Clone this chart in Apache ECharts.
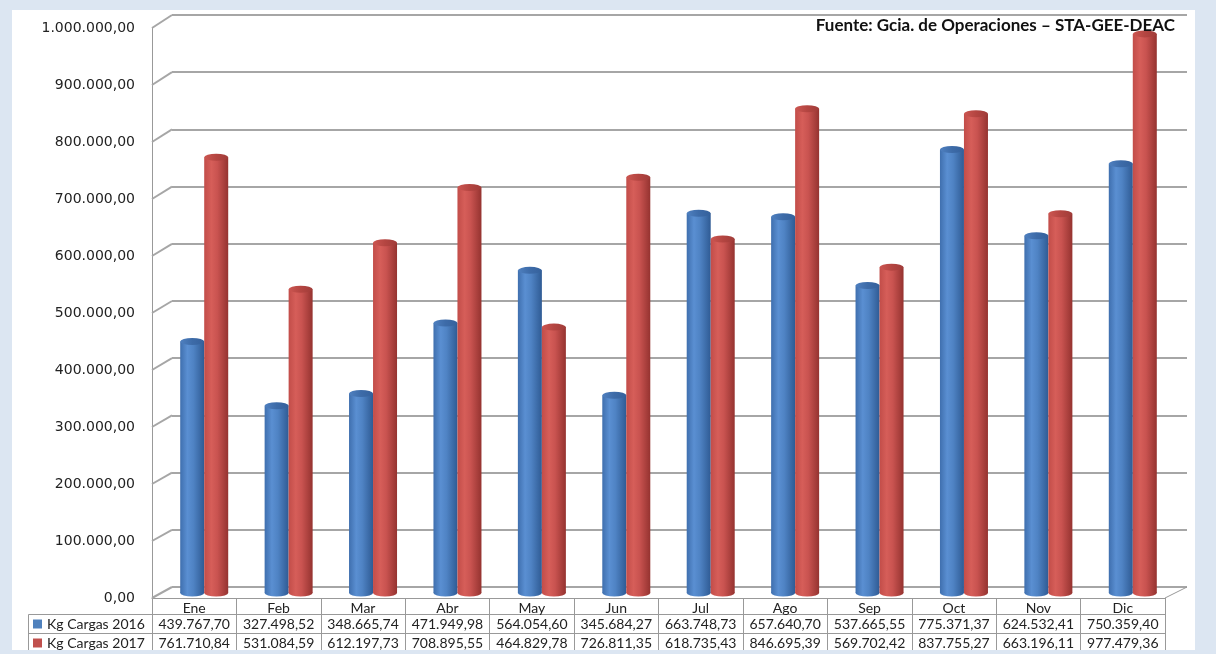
<!DOCTYPE html>
<html>
<head>
<meta charset="utf-8">
<script src="https://cdn.jsdelivr.net/npm/echarts@6/dist/echarts.min.js"></script>
<style>
html,body{margin:0;padding:0;background:#dce6f2;}
#c{width:1216px;height:654px;}
</style>
</head>
<body>
<div id="c"></div>
<script>
// ---- data ----
const months = ['Ene','Feb','Mar','Abr','May','Jun','Jul','Ago','Sep','Oct','Nov','Dic'];
const cargas2016 = [439767.70, 327498.52, 348665.74, 471949.98, 564054.60, 345684.27, 663748.73, 657640.70, 537665.55, 775371.37, 624532.41, 750359.40];
const cargas2017 = [761710.84, 531084.59, 612197.73, 708895.55, 464829.78, 726811.35, 618735.43, 846695.39, 569702.42, 837755.27, 663196.11, 977479.36];
const seriesNames = ['Kg Cargas 2016', 'Kg Cargas 2017'];
const yTicks = [0,100000,200000,300000,400000,500000,600000,700000,800000,900000,1000000];
const sourceText = 'Fuente: Gcia. de Operaciones \u2013 STA-GEE-DEAC';

function fmt(v){
  const parts = v.toFixed(2).split('.');
  return parts[0].replace(/\B(?=(\d{3})+(?!\d))/g,'.') + ',' + parts[1];
}

const chart = echarts.init(document.getElementById('c'), null, {renderer:'canvas'});
const grey = '#a6a6a6';
const tblFont = 'Lato';
const yMin = yTicks[0], yMax = yTicks[yTicks.length-1], yStep = yTicks[1]-yTicks[0];

function hGrad(stops){
  return new echarts.graphic.LinearGradient(0,0,1,0, stops.map(c=>({offset:c[0],color:c[1]})));
}
const blueBody = hGrad([[0,'#3f6fae'],[0.3,'#5a8fd2'],[0.55,'#4f83c4'],[1,'#2f5b94']]);
const redBody  = hGrad([[0,'#c24d49'],[0.3,'#d65e59'],[0.55,'#c95350'],[1,'#953330']]);
const blueTop = hGrad([[0,'#4f80c0'],[0.5,'#3d6ba8'],[1,'#35619c']]);
const redTop  = hGrad([[0,'#cc5651'],[0.5,'#b44541'],[1,'#a03c39']]);

const legendBase = {
  orient:'vertical', left:33, padding:0, itemWidth:9, itemHeight:9, icon:'rect',
  textStyle:{fontFamily:tblFont, fontSize:14, color:'#222', lineHeight:14}
};

const option = {
  backgroundColor:'#dce6f2',
  animation:false,
  title:{
    text: sourceText, right: 36, top: 12,
    textStyle:{fontFamily:tblFont, fontWeight:'bold', fontSize:17, color:'#111'}
  },
  legend:[
    Object.assign({}, legendBase, {top:617, data:[{name:seriesNames[0], itemStyle:{color:'#4f81bd'}}]}),
    Object.assign({}, legendBase, {top:636, data:[{name:seriesNames[1], itemStyle:{color:'#c0504d'}}]})
  ],
  grid:[
    {left:172, top:15, width:1015, height:572},
    {left:162, top:21, width:1013, height:572},
    {left:152, top:28, width:1013, height:570}
  ],
  xAxis:[
    {type:'category', gridIndex:0, data:months, show:false},
    {type:'category', gridIndex:1, data:months, show:false},
    {type:'category', gridIndex:2, data:months, boundaryGap:true,
      axisLine:{show:true, lineStyle:{color:'#999', width:1}},
      axisTick:{show:true, length:60, alignWithLabel:false, lineStyle:{color:'#999'}},
      axisLabel:{margin:3, fontFamily:tblFont, fontSize:14, color:'#222'}},
    {type:'category', gridIndex:2, position:'bottom', offset:16, data:cargas2016.map(fmt),
      axisLine:{show:true, lineStyle:{color:'#999'}}, axisTick:{show:false},
      axisLabel:{margin:3, fontFamily:tblFont, fontSize:14, color:'#222', interval:0}},
    {type:'category', gridIndex:2, position:'bottom', offset:35, data:cargas2017.map(fmt),
      axisLine:{show:true, lineStyle:{color:'#999'}}, axisTick:{show:false},
      axisLabel:{margin:3, fontFamily:tblFont, fontSize:14, color:'#222', interval:0}}
  ],
  yAxis:[
    {type:'value', gridIndex:0, min:yMin, max:yMax, interval:yStep,
      axisLine:{show:false}, axisTick:{show:false}, axisLabel:{show:false},
      splitLine:{show:true, lineStyle:{color:grey, width:2}}},
    {type:'value', gridIndex:1, min:yMin, max:yMax, interval:yStep, show:false, splitLine:{show:false}},
    {type:'value', gridIndex:2, min:yMin, max:yMax, interval:yStep,
      axisLine:{show:true, lineStyle:{color:'#999'}}, axisTick:{show:false},
      splitLine:{show:false},
      axisLabel:{formatter:v=>fmt(v), margin:17, fontFamily:'DejaVu Sans', fontSize:14, color:'#222'}}
  ],
  series:[
    {name:seriesNames[0], type:'bar', xAxisIndex:1, yAxisIndex:1, data:cargas2016,
      barWidth:24, barGap:'0%', z:3, itemStyle:{color:blueBody}},
    {name:seriesNames[1], type:'bar', xAxisIndex:1, yAxisIndex:1, data:cargas2017,
      barWidth:24, barGap:'0%', z:3, itemStyle:{color:redBody}},
    {name:seriesNames[0], type:'pictorialBar', xAxisIndex:1, yAxisIndex:1, data:cargas2016,
      symbol:'circle', symbolSize:[24,7], symbolPosition:'end', symbolOffset:['-50%','-50%'], z:4,
      itemStyle:{color:blueTop}},
    {name:seriesNames[1], type:'pictorialBar', xAxisIndex:1, yAxisIndex:1, data:cargas2017,
      symbol:'circle', symbolSize:[24,7], symbolPosition:'end', symbolOffset:['50%','-50%'], z:4,
      itemStyle:{color:redTop}},
    {name:seriesNames[0], type:'pictorialBar', xAxisIndex:1, yAxisIndex:1, data:cargas2016,
      symbol:'circle', symbolSize:[24,7], symbolPosition:'start', symbolOffset:['-50%','50%'], z:2,
      itemStyle:{color:blueBody}},
    {name:seriesNames[1], type:'pictorialBar', xAxisIndex:1, yAxisIndex:1, data:cargas2017,
      symbol:'circle', symbolSize:[24,7], symbolPosition:'start', symbolOffset:['50%','50%'], z:2,
      itemStyle:{color:redBody}}
  ]
};
chart.setOption(option);

// decorations: panel, 3D diagonals, table left column
const els = [];
els.push({type:'rect', shape:{x:12,y:10,width:1183,height:640}, style:{fill:'#ffffff'}, z:-100, silent:true});
yTicks.forEach(v=>{
  const yf = chart.convertToPixel({yAxisIndex:2}, v);
  const yb = chart.convertToPixel({yAxisIndex:0}, v);
  els.push({type:'line', shape:{x1:152,y1:yf,x2:172,y2:yb}, style:{stroke:grey, lineWidth:2}, silent:true, z:1});
});
const y0f = chart.convertToPixel({yAxisIndex:2}, 0);
const y0b = chart.convertToPixel({yAxisIndex:0}, 0);
els.push({type:'line', shape:{x1:1165,y1:y0f,x2:1187,y2:y0b}, style:{stroke:'#999', lineWidth:1}, silent:true, z:1});
const rowTop = Math.round(y0f + 16) + 0.5, rowMid = Math.round(y0f + 35) + 0.5;
els.push({type:'line', shape:{x1:28.5,y1:rowTop,x2:1165,y2:rowTop}, style:{stroke:'#999', lineWidth:1}, silent:true});
els.push({type:'line', shape:{x1:28.5,y1:rowMid,x2:1165,y2:rowMid}, style:{stroke:'#999', lineWidth:1}, silent:true});
els.push({type:'line', shape:{x1:28.5,y1:rowTop,x2:28.5,y2:660}, style:{stroke:'#999', lineWidth:1}, silent:true});
els.push({type:'line', shape:{x1:1165.5,y1:y0f,x2:1165.5,y2:660}, style:{stroke:'#999', lineWidth:1}, silent:true});
els.push({type:'rect', shape:{x:0,y:650,width:1216,height:4}, style:{fill:'#dce6f2'}, z:100, silent:true});
chart.setOption({graphic:{elements:els}});
</script>
</body>
</html>
